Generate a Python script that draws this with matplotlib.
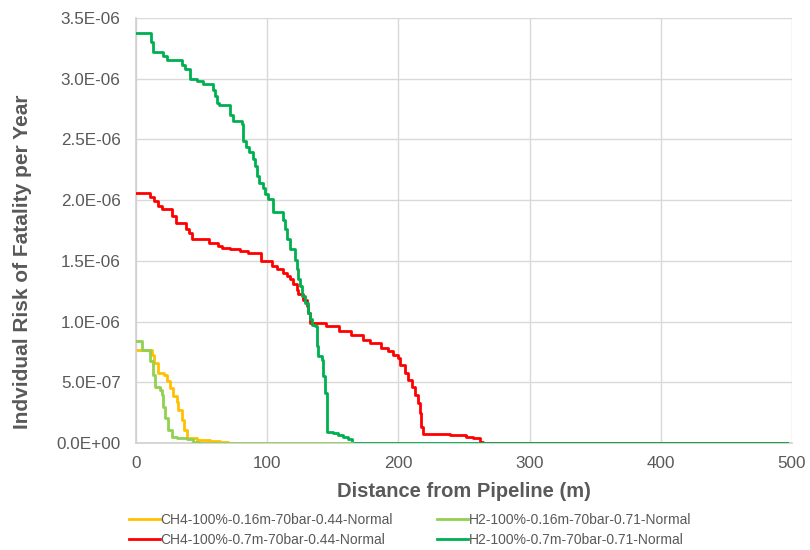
import matplotlib
matplotlib.use("Agg")
import matplotlib.pyplot as plt
from matplotlib.ticker import FuncFormatter

plt.rcParams['font.family'] = ['Liberation Sans', 'DejaVu Sans']

# ---- data (distance in m, risk in 1e-6 per year), step values starting at each x ----
ch4_016_x = [0, 12, 13.5, 16.5, 21.5, 23.4, 25.9, 28.4, 31, 32.2, 34.8, 36.5, 39.2, 46.2, 56.4, 64, 70, 496]
ch4_016_y = [0.769, 0.727, 0.659, 0.576, 0.562, 0.507, 0.452, 0.383, 0.341, 0.273, 0.19, 0.107, 0.039, 0.025, 0.016, 0.008, 0.0, 0.0]

h2_016_x = [0, 4.3, 10.7, 13.2, 14.8, 18.3, 19.6, 20.8, 22, 24.6, 27.2, 31, 38.6, 43.6, 48, 164.3]
h2_016_y = [0.837, 0.769, 0.672, 0.562, 0.465, 0.438, 0.397, 0.30, 0.204, 0.107, 0.052, 0.039, 0.03, 0.01, 0.0, 0.0]

ch4_07_x = [0, 10.7, 13.5, 16.5, 20, 27.8, 30.5, 37.8, 40.5, 42.4, 55.5, 62.7, 65.3, 71.6, 79.2, 85.5,
            95.2, 104, 107.2, 112.2, 114.8, 117.3, 119.8, 122.4, 123.6, 127.4, 130, 131.2, 132.5,
            144.8, 154.6, 164, 173, 178.2, 187.1, 192.2, 196, 199.8, 201, 204.9, 207.4, 210, 212.5,
            215, 216.3, 217.6, 218.8, 239, 251.8, 256.9, 262, 264.5, 496]
ch4_07_y = [2.058, 2.03, 1.99, 1.95, 1.93, 1.87, 1.815, 1.76, 1.73, 1.68, 1.645, 1.622, 1.61, 1.595, 1.58, 1.565,
            1.50, 1.457, 1.43, 1.40, 1.374, 1.347, 1.306, 1.264, 1.223, 1.18, 1.126, 1.07, 0.99,
            0.961, 0.92, 0.893, 0.851, 0.824, 0.783, 0.755, 0.727, 0.70, 0.645, 0.576, 0.52, 0.465, 0.397,
            0.328, 0.245, 0.135, 0.075, 0.065, 0.052, 0.039, 0.012, 0.0, 0.0]

h2_07_x = [0, 11.2, 13, 20.6, 23.4, 34.8, 37.3, 41.1, 46.2, 51, 58.6, 60, 62, 63.5, 71.6, 74, 81, 81.7,
           84, 86.5, 89, 90.5, 92, 94, 96.7, 98.5, 100.8, 104.6, 112, 113.5, 114.8, 117.3, 121, 122.4,
           123.6, 125, 126.2, 128.7, 131.2, 132.5, 133.8, 136.3, 137.6, 138.9, 141.4, 142.7, 144, 145.2,
           150.3, 154, 157.9, 161.7, 164.3, 496]
h2_07_y = [3.38, 3.30, 3.22, 3.19, 3.157, 3.11, 3.08, 3.00, 2.98, 2.96, 2.91, 2.86, 2.80, 2.78, 2.70, 2.655, 2.63, 2.49,
           2.435, 2.394, 2.34, 2.28, 2.20, 2.14, 2.10, 2.05, 2.01, 1.90, 1.84, 1.76, 1.68, 1.60, 1.51, 1.43,
           1.35, 1.29, 1.21, 1.155, 1.07, 1.02, 0.975, 0.96, 0.796, 0.713, 0.686, 0.548, 0.41, 0.093,
           0.085, 0.07, 0.052, 0.03, 0.0, 0.0]

labels = ["CH4-100%-0.16m-70bar-0.44-Normal", "CH4-100%-0.7m-70bar-0.44-Normal",
          "H2-100%-0.16m-70bar-0.71-Normal", "H2-100%-0.7m-70bar-0.71-Normal"]
colors = ["#FFC000", "#FF0000", "#92D050", "#00B050"]

x_ticks = [0, 100, 200, 300, 400, 500]
y_ticks = [0, 0.5, 1.0, 1.5, 2.0, 2.5, 3.0, 3.5]

fig = plt.figure(figsize=(8.1, 5.5), dpi=100)
ax = fig.add_axes([136/810, 1-443/550, (792-136)/810, (443-18)/550])

series = [(ch4_016_x, ch4_016_y, 2), (ch4_07_x, ch4_07_y, 3), (h2_016_x, h2_016_y, 5), (h2_07_x, h2_07_y, 4)]
for (xs, ys, z), lab, c in zip(series, labels, colors):
    ax.plot(xs, [v * 1e-6 for v in ys], drawstyle='steps-post', color=c, lw=2.0, label=lab, zorder=z)

ax.set_xlim(0, 500)
ax.set_ylim(0, 3.5e-6)
ax.set_xticks(x_ticks)
ax.set_yticks([v * 1e-6 for v in y_ticks])
ax.yaxis.set_major_formatter(FuncFormatter(lambda v, p: f"{v:.1E}"))
ax.grid(True, color='#D9D9D9', lw=1.0, zorder=0)
ax.set_axisbelow(True)
for s in ['top', 'right']:
    ax.spines[s].set_visible(False)
for s in ['left', 'bottom']:
    ax.spines[s].set_color('#D0D0D0')
    ax.spines[s].set_linewidth(1.2)
ax.tick_params(axis='both', length=0, labelsize=12.3, labelcolor='#595959')
ax.tick_params(axis='y', pad=11)
ax.tick_params(axis='x', pad=9)

ax.set_xlabel("Distance from Pipeline (m)", fontsize=14.5, fontweight='bold', color='#595959')
ax.set_ylabel("Indvidual Risk of Fatality per Year", fontsize=15, fontweight='bold', color='#595959')
ax.yaxis.set_label_coords(-(136-32)/656, (443-262)/425)
ax.xaxis.set_label_coords(0.5, -(482-443)/425)

leg = fig.legend(loc='center', bbox_to_anchor=(410/810, 1-530/550), ncol=2, frameon=False,
                 fontsize=10, handlelength=2.2, handletextpad=0.05, columnspacing=3.2,
                 labelspacing=0.45)
for t in leg.get_texts():
    t.set_color('#595959')

fig.savefig("out.png", dpi=100)
